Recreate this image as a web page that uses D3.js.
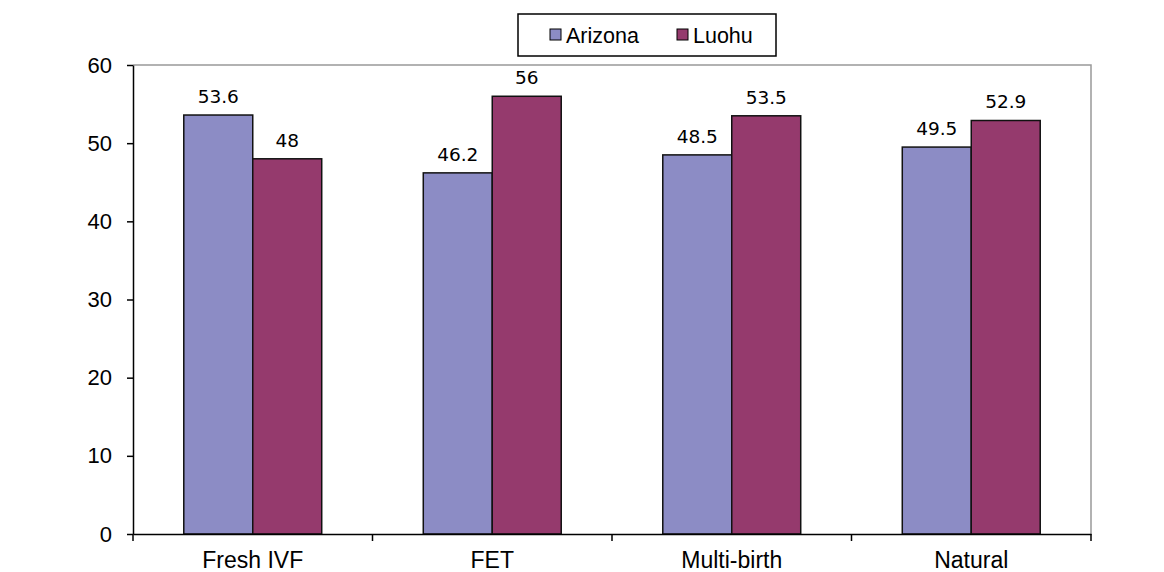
<!DOCTYPE html>
<html>
<head>
<meta charset="utf-8">
<script src="https://cdn.jsdelivr.net/npm/d3@7"></script>
<style>
  body { margin: 0; background: #fff; }
  svg { display: block; }
</style>
</head>
<body>
<div id="main"></div>
<script>
const categories = ["Fresh IVF", "FET", "Multi-birth", "Natural"];
const seriesNames = ["Arizona", "Luohu"];
const arizona = [53.6, 46.2, 48.5, 49.5];
const luohu = [48, 56, 53.5, 52.9];
const yTicks = [0, 10, 20, 30, 40, 50, 60];

const colors = ["#8c8cc5", "#953a6d"];
const w = 1164, h = 572;
const plotLeft = 133, plotRight = 1091, plotTop = 65, plotBottom = 534;

const svg = d3.select("#main").append("svg").attr("width", w).attr("height", h);

const x0 = d3.scaleBand().domain(categories).range([plotLeft, plotRight]).padding(0);
const bw = x0.bandwidth();
const x1 = d3.scaleBand().domain(seriesNames).range([bw * 0.212, bw * 0.788]).padding(0);
const y = d3.scaleLinear().domain([0, 60]).range([plotBottom, plotTop]);

// plot frame (top and right in grey)
svg.append("path")
    .attr("d", "M" + plotLeft + "," + plotTop + "H" + plotRight + "V" + plotBottom)
    .attr("fill", "none")
    .attr("stroke", "#999")
    .attr("stroke-width", 1.5);

const data = categories.map((c, i) => ({cat: c, vals: [arizona[i], luohu[i]]}));

const groups = svg.selectAll(".grp")
    .data(data)
    .enter()
    .append("g")
    .attr("transform", d => "translate(" + x0(d.cat) + ",0)");

groups.selectAll("rect")
    .data(d => d.vals.map((v, j) => ({name: seriesNames[j], v: v, j: j})))
    .enter()
    .append("rect")
    .attr("x", d => x1(d.name))
    .attr("y", d => y(d.v))
    .attr("width", x1.bandwidth())
    .attr("height", d => plotBottom - y(d.v))
    .attr("fill", d => colors[d.j])
    .attr("stroke", "#111")
    .attr("stroke-width", 1.5);

groups.selectAll("text")
    .data(d => d.vals.map((v, j) => ({name: seriesNames[j], v: v})))
    .enter()
    .append("text")
    .attr("x", d => x1(d.name) + x1.bandwidth() / 2)
    .attr("y", d => y(d.v) - 12)
    .attr("text-anchor", "middle")
    .style("font-family", "'DejaVu Sans', Verdana, sans-serif")
    .style("font-size", "18.5px")
    .text(d => d.v);

// y axis
const yAxis = d3.axisLeft(y).tickValues(yTicks).tickSize(6).tickSizeOuter(0).tickPadding(15);
const gy = svg.append("g")
    .attr("transform", "translate(" + plotLeft + ",0)")
    .call(yAxis);
gy.select(".domain").attr("stroke", "#000").attr("stroke-width", 1.5);
gy.selectAll(".tick line").attr("stroke-width", 1.5);
gy.selectAll("text")
    .style("font-family", "'Liberation Sans', Arial, sans-serif")
    .style("font-size", "22px")
    .attr("fill", "#000");

// x axis
const gx = svg.append("g")
    .attr("transform", "translate(0," + plotBottom + ")")
    .call(d3.axisBottom(x0).tickSize(0).tickPadding(18));
gx.select(".domain").attr("stroke", "#000").attr("stroke-width", 1.5);
gx.selectAll("text")
    .style("font-family", "'Liberation Sans', Arial, sans-serif")
    .style("font-size", "23px")
    .attr("fill", "#000");
// boundary ticks between categories
const bounds = categories.map(c => x0(c)).concat([plotRight]);
gx.selectAll(".bnd")
    .data(bounds)
    .enter()
    .append("line")
    .attr("x1", d => d).attr("x2", d => d)
    .attr("y1", 0).attr("y2", 7)
    .attr("stroke", "#000")
    .attr("stroke-width", 1.5);

// legend
const lg = svg.append("g").attr("transform", "translate(518,14)");
lg.append("rect")
    .attr("width", 258).attr("height", 42)
    .attr("fill", "#fff")
    .attr("stroke", "#000")
    .attr("stroke-width", 1.5);
const legX = [32, 159];
seriesNames.forEach((s, i) => {
    lg.append("rect")
        .attr("x", legX[i]).attr("y", 15)
        .attr("width", 11).attr("height", 11)
        .attr("fill", colors[i])
        .attr("stroke", "#000")
        .attr("stroke-width", 1);
    lg.append("text")
        .attr("x", legX[i] + 16).attr("y", 29)
        .style("font-family", "'Liberation Sans', Arial, sans-serif")
        .style("font-size", "21.5px")
        .text(s);
});
</script>
</body>
</html>
